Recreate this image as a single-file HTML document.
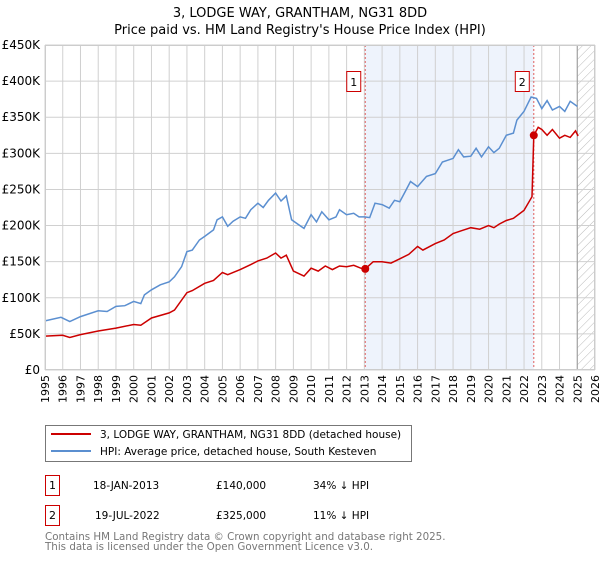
<!DOCTYPE html>
<html><head><meta charset="utf-8"><style>
body{margin:0;background:#fff;font-family:"Liberation Sans","DejaVu Sans",sans-serif;}
svg text{font-family:"DejaVu Sans","Liberation Sans",sans-serif;}
</style></head><body>
<svg id="chart" width="600" height="560" xmlns="http://www.w3.org/2000/svg">
<defs><pattern id="hatch" patternUnits="userSpaceOnUse" width="6" height="6" patternTransform="rotate(45)"><line x1="0" y1="0" x2="0" y2="6" stroke="#bbb" stroke-width="1"/></pattern></defs>
<text x="300" y="17" text-anchor="middle" font-size="13">3, LODGE WAY, GRANTHAM, NG31 8DD</text>
<text x="300" y="34" text-anchor="middle" font-size="13">Price paid vs. HM Land Registry's House Price Index (HPI)</text>
<g id="grid"></g><g id="marks"></g><g id="axes"></g>
<rect x="45.5" y="425.5" width="366" height="36" fill="#fff" stroke="#777"/>
<line x1="51" y1="434" x2="91" y2="434" stroke="#cc0000" stroke-width="2"/>
<text x="100" y="438" font-size="10.5">3, LODGE WAY, GRANTHAM, NG31 8DD (detached house)</text>
<line x1="51" y1="451" x2="91" y2="451" stroke="#5b8fd0" stroke-width="2"/>
<text x="100" y="455" font-size="10.5">HPI: Average price, detached house, South Kesteven</text>
<rect x="45.5" y="475.5" width="14" height="20" fill="#fff" stroke="#cc0000"/>
<text x="52.5" y="489" text-anchor="middle" font-size="11">1</text>
<text x="93" y="489" font-size="10.5">18-JAN-2013</text>
<text x="216" y="489" font-size="10.5">£140,000</text>
<text x="313" y="489" font-size="10.5">34% ↓ HPI</text>
<rect x="45.5" y="505.5" width="14" height="20" fill="#fff" stroke="#cc0000"/>
<text x="52.5" y="519" text-anchor="middle" font-size="11">2</text>
<text x="95" y="519" font-size="10.5">19-JUL-2022</text>
<text x="216" y="519" font-size="10.5">£325,000</text>
<text x="313" y="519" font-size="10.5">11% ↓ HPI</text>
<text x="45" y="540" font-size="10.3" fill="#777">Contains HM Land Registry data © Crown copyright and database right 2025.</text>
<text x="45" y="550" font-size="10.3" fill="#777">This data is licensed under the Open Government Licence v3.0.</text>
</svg>
<script>
const hpiYears=[1995,1995.9,1996.4,1997,1998,1998.5,1999,1999.5,2000,2000.4,2000.6,2001,2001.5,2002,2002.3,2002.7,2003,2003.3,2003.7,2004,2004.5,2004.7,2005,2005.3,2005.6,2006,2006.3,2006.6,2007,2007.3,2007.6,2008,2008.3,2008.6,2008.9,2009.3,2009.6,2010,2010.3,2010.6,2011,2011.4,2011.6,2012,2012.4,2012.7,2013,2013.3,2013.6,2014,2014.4,2014.7,2015,2015.3,2015.6,2016,2016.5,2017,2017.4,2018,2018.3,2018.6,2019,2019.3,2019.6,2020,2020.3,2020.6,2021,2021.4,2021.6,2022,2022.4,2022.7,2023,2023.3,2023.6,2024,2024.3,2024.6,2025];
const hpiValues=[68,73,67,74,82,81,88,89,95,92,104,111,118,122,129,143,164,166,180,185,194,208,212,199,206,212,210,222,231,225,235,245,234,241,208,201,196,215,205,219,208,212,222,215,217,212,212,211,231,229,224,235,233,247,261,254,268,272,288,293,305,295,296,307,295,309,301,307,325,328,346,358,378,376,362,373,360,365,358,372,365];
const priceYears=[1995,1996,1996.4,1997,1998,1999,2000,2000.4,2001,2002,2002.3,2003,2003.3,2004,2004.5,2005,2005.3,2006,2006.6,2007,2007.5,2008,2008.3,2008.6,2009,2009.6,2010,2010.4,2010.8,2011.2,2011.6,2012,2012.4,2012.8,2013.05,2013.5,2014,2014.5,2015,2015.5,2016,2016.3,2017,2017.5,2018,2018.5,2019,2019.5,2020,2020.3,2020.6,2021,2021.4,2022,2022.45,2022.55,2022.8,2023,2023.3,2023.6,2024,2024.3,2024.6,2024.9,2025.05];
const priceValues=[47,48,45,49,54,58,63,62,72,79,83,107,110,120,124,135,132,139,146,151,155,162,155,159,137,130,141,137,144,139,144,143,145,141,140,150,150,148,154,160,171,166,175,180,189,193,197,195,200,197,202,207,210,221,240,325,336,333,325,333,321,325,322,331,324];
const saleYears=[2013.05,2022.55];
const saleValues=[140,325];
const saleLabels=["1","2"];
const yTicks=[0,50,100,150,200,250,300,350,400,450];
const yTickLabels=["£0","£50K","£100K","£150K","£200K","£250K","£300K","£350K","£400K","£450K"];
const xTicks=[1995,1996,1997,1998,1999,2000,2001,2002,2003,2004,2005,2006,2007,2008,2009,2010,2011,2012,2013,2014,2015,2016,2017,2018,2019,2020,2021,2022,2023,2024,2025,2026];

const X0=45,X1=595,Y0=370,Y1=45;
const xs=y=>X0+(y-1995)/(2026-1995)*(X1-X0);
const ys=v=>Y0-v/450*(Y0-Y1);
const NS="http://www.w3.org/2000/svg";
function mk(parent,tag,attrs){const e=document.createElementNS(NS,tag);for(const k in attrs)e.setAttribute(k,attrs[k]);document.getElementById(parent).appendChild(e);return e;}
let r=mk('grid','rect',{x:xs(saleYears[0]),y:Y1,width:xs(saleYears[1])-xs(saleYears[0]),height:Y0-Y1,fill:'#eef3fc'});


let h=mk('grid','rect',{x:xs(2025),y:Y1,width:X1-xs(2025),height:Y0-Y1,fill:'url(#hatch)'});


xTicks.forEach(t=>{
  const g=mk('grid','line',{x1:xs(t),x2:xs(t),y1:Y1,y2:Y0,stroke:'#d0d0d0','stroke-width':1});
  
  
  const tx=mk('axes','text',{x:0,y:0,'font-size':11,'text-anchor':'end',transform:`translate(${xs(t)+4},${Y0+5}) rotate(-90)`});
  tx.textContent=t;
  
  
});
yTicks.forEach((t,i)=>{
  const g=mk('grid','line',{x1:X0,x2:X1,y1:ys(t),y2:ys(t),stroke:'#d0d0d0','stroke-width':1});
  
  
  const tx=mk('axes','text',{x:40,y:ys(t)+4,'font-size':12,'text-anchor':'end'});
  tx.textContent=yTickLabels[i];
  
  
});
const hb=mk('grid','line',{x1:xs(2025),x2:xs(2025),y1:Y1,y2:Y0,stroke:'#999','stroke-width':1});


saleYears.forEach((s,i)=>{
  const l=mk('marks','line',{x1:xs(s),x2:xs(s),y1:Y1,y2:Y0,stroke:'#e06060','stroke-width':1,'stroke-dasharray':'2,2'});
  
  
});
const pts=(a,b)=>a.map((y,i)=>xs(y).toFixed(1)+','+ys(b[i]).toFixed(1)).join(' ');
const hl=mk('marks','polyline',{points:pts(hpiYears,hpiValues),fill:'none',stroke:'#5b8fd0','stroke-width':1.5});


const pl=mk('marks','polyline',{points:pts(priceYears,priceValues),fill:'none',stroke:'#cc0000','stroke-width':1.5});


saleYears.forEach((s,i)=>{
  const c=mk('marks','circle',{cx:xs(s),cy:ys(saleValues[i]),r:4,fill:'#cc0000'});
  
  
  const b=mk('marks','rect',{x:xs(s)-18.5,y:71.5,width:14,height:20,fill:'#fff',stroke:'#cc0000'});
  
  
  const t=mk('marks','text',{x:xs(s)-11.5,y:86,'font-size':11,'text-anchor':'middle'});
  t.textContent=saleLabels[i];
  
  
});
const ax=mk('axes','rect',{x:X0+0.5,y:Y1+0.5,width:X1-X0-1,height:Y0-Y1-1,fill:'none',stroke:'#ccc'});


</script>
</body></html>
